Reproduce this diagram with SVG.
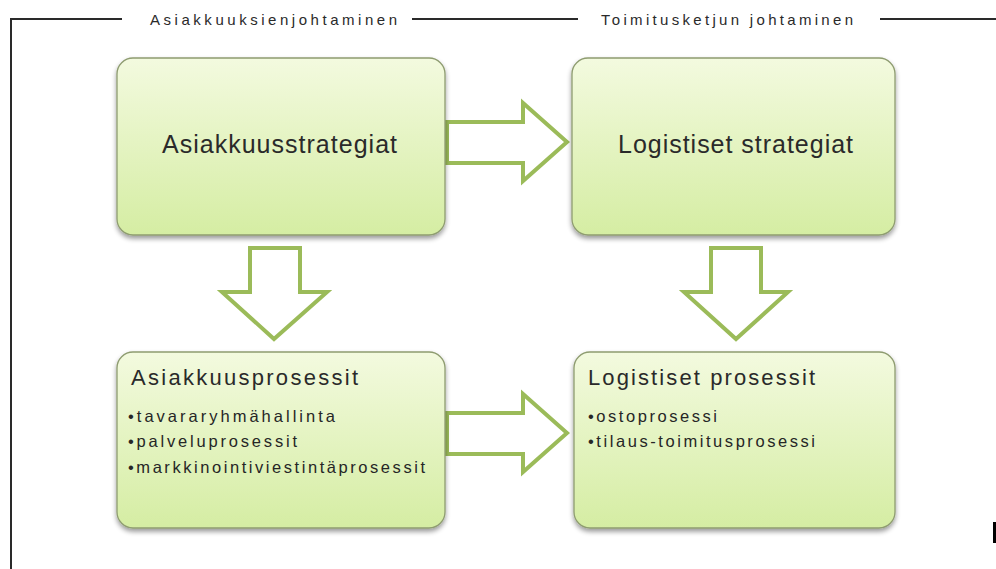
<svg xmlns="http://www.w3.org/2000/svg" width="996" height="569" viewBox="0 0 996 569">
  <defs>
    <linearGradient id="boxFill" x1="0" y1="0" x2="0" y2="1">
      <stop offset="0" stop-color="#f3fadf"/>
      <stop offset="1" stop-color="#d5eda3"/>
    </linearGradient>
    <filter id="shadow" x="-10%" y="-10%" width="120%" height="125%">
      <feGaussianBlur in="SourceAlpha" stdDeviation="2.5"/>
      <feOffset dx="0" dy="3" result="b"/>
      <feComponentTransfer><feFuncA type="linear" slope="0.4"/></feComponentTransfer>
      <feMerge><feMergeNode/><feMergeNode in="SourceGraphic"/></feMerge>
    </filter>
    <style>
      .frame { stroke: #2a2a2a; stroke-width: 2; fill: none; }
      .hdr { font-family: "Liberation Sans", Arial, sans-serif; font-size: 15px; fill: #2a2a2a; }
      .box { fill: url(#boxFill); stroke: #8e9c70; stroke-width: 1.3; filter: url(#shadow); }
      .big { font-family: "Liberation Sans", Arial, sans-serif; font-size: 25px; fill: #2a2a2a; }
      .title { font-family: "Liberation Sans", Arial, sans-serif; font-size: 22px; fill: #2a2a2a; }
      .item { font-family: "Liberation Sans", Arial, sans-serif; font-size: 16.5px; fill: #262626; }
      .arrow { fill: #ffffff; stroke: #9bbb59; stroke-width: 4; stroke-linejoin: miter; }
    </style>
  </defs>
  <rect width="996" height="569" fill="#ffffff"/>

  <!-- outer bracket frame with section headings -->
  <g id="frame">
    <path class="frame" d="M11,569 V19 H122"/>
    <line class="frame" x1="412" y1="19" x2="578" y2="19"/>
    <line class="frame" x1="880" y1="19" x2="996" y2="19"/>
    <text class="hdr" x="150" y="25" textLength="247" lengthAdjust="spacing">Asiakkuuksienjohtaminen</text>
    <text class="hdr" x="601" y="25" textLength="252" lengthAdjust="spacing">Toimitusketjun johtaminen</text>
    <rect x="993" y="522" width="3" height="21" fill="#000"/>
  </g>

  <!-- connectors: hollow block arrows -->
  <g id="connectors">
    <polygon class="arrow" points="447,122 523,122 523,103 567,142 523,181 523,163 447,163"/>
    <polygon class="arrow" points="447,413 523,413 523,394 567,433 523,472 523,454 447,454"/>
    <polygon class="arrow" points="250,248 300,248 300,292 327,292 274,339 222,292 250,292"/>
    <polygon class="arrow" points="711,248 761,248 761,292 788,292 736,339 684,292 711,292"/>
  </g>

  <g id="asiakkuusstrategiat">
    <rect class="box" x="117" y="58" width="328" height="177" rx="16"/>
    <text class="big" x="162" y="153" textLength="235" lengthAdjust="spacing">Asiakkuusstrategiat</text>
  </g>

  <g id="logistiset-strategiat">
    <rect class="box" x="572" y="58" width="323" height="177" rx="16"/>
    <text class="big" x="618" y="153" textLength="235" lengthAdjust="spacing">Logistiset strategiat</text>
  </g>

  <g id="asiakkuusprosessit">
    <rect class="box" x="117" y="352" width="328" height="176" rx="16"/>
    <text class="title" x="131" y="385" textLength="227" lengthAdjust="spacing">Asiakkuusprosessit</text>
    <text class="item" x="128" y="422" textLength="207" lengthAdjust="spacing">•tavararyhmähallinta</text>
    <text class="item" x="128" y="447" textLength="169" lengthAdjust="spacing">•palveluprosessit</text>
    <text class="item" x="128" y="473" textLength="297" lengthAdjust="spacing">•markkinointiviestintäprosessit</text>
  </g>

  <g id="logistiset-prosessit">
    <rect class="box" x="574" y="352" width="321" height="176" rx="16"/>
    <text class="title" x="588" y="385" textLength="227" lengthAdjust="spacing">Logistiset prosessit</text>
    <text class="item" x="588" y="422" textLength="129" lengthAdjust="spacing">•ostoprosessi</text>
    <text class="item" x="588" y="447" textLength="227" lengthAdjust="spacing">•tilaus-toimitusprosessi</text>
  </g>
</svg>
